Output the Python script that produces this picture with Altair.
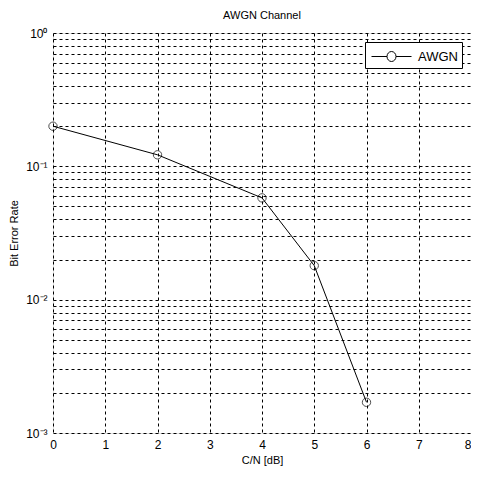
import altair as alt
import pandas as pd

cn_db = [0, 2, 4, 5, 6]
ber = [0.2, 0.122, 0.058, 0.018, 0.0017]
series = ["AWGN"] * 5

x_ticks = [0, 1, 2, 3, 4, 5, 6, 7, 8]
y_ticks = [round(m * 10 ** k, 10) for k in (-3, -2, -1) for m in range(1, 10)] + [1.0]

df = pd.DataFrame({"cn": cn_db, "ber": ber, "series": series})

FONT = "Liberation Sans"

label_expr = ("datum.value == 1 ? '10⁰' : datum.value == 0.1 ? '10⁻¹' : "
              "datum.value == 0.01 ? '10⁻²' : datum.value == 0.001 ? '10⁻³' : ''")

x_enc = alt.X("cn:Q", scale=alt.Scale(domain=[0, 8], nice=False),
              axis=alt.Axis(values=x_ticks, title="C/N [dB]", grid=True,
                            gridDash=[3, 3], gridColor="black", gridOpacity=1,
                            gridWidth=1, tickSize=0, labelPadding=6,
                            labelAlign={"condition": {"test": "datum.value == 8", "value": "right"},
                                        "value": "center"},
                            labelFontSize=12, titleFontSize=11, titleFontWeight="normal",
                            titlePadding=4, domain=False, labelFont=FONT, titleFont=FONT,
                            labelColor="black", titleColor="black"))
y_enc = alt.Y("ber:Q", scale=alt.Scale(type="log", domain=[0.001, 1], nice=False),
              axis=alt.Axis(values=y_ticks, labelExpr=label_expr, title="Bit Error Rate",
                            grid=True, gridDash=[3, 3], gridColor="black", gridOpacity=1,
                            gridWidth=1, tickSize=0, labelPadding=6,
                            labelFontSize=12, titleFontSize=11, titleFontWeight="normal",
                            titlePadding=6, domain=False, labelFont=FONT, titleFont=FONT,
                            labelColor="black", titleColor="black"))

legend_sym = ("M -0.8 0 L 0.75 0 M 1.65 0 L 3.2 0 M 1.65 0 A 0.45 0.5 0 1 1 0.75 0 "
              "A 0.45 0.5 0 1 1 1.65 0")

color = alt.Color("series:N", scale=alt.Scale(range=["black"]),
                  legend=alt.Legend(title=None, orient="top-right", offset=9,
                                    strokeColor="black", fillColor="white",
                                    padding=4, symbolType=legend_sym, symbolSize=400,
                                    symbolStrokeColor="black", symbolStrokeWidth=1,
                                    symbolFillColor="transparent",
                                    labelFontSize=13, labelFont=FONT, labelOffset=28,
                                    labelColor="black", cornerRadius=0))

line = alt.Chart(df).mark_line(color="black", strokeWidth=1).encode(
    x=x_enc, y=y_enc, color=color)
pts = alt.Chart(df).mark_point(shape="circle", filled=False, size=70,
                               color="black", strokeWidth=1).encode(
    x="cn:Q", y="ber:Q")

chart = alt.layer(line, pts).properties(
    width=418, height=400,
    title=alt.TitleParams("AWGN Channel", fontSize=11, fontWeight="normal",
                          font=FONT, color="black", offset=6),
    autosize=alt.AutoSizeParams(type="none"),
    padding={"left": 45, "top": 25, "right": 0, "bottom": 35},
).configure_view(stroke="black", strokeWidth=1.5).configure(background="white")

chart.save("out.html", embed_options={"renderer": "svg", "actions": False})
